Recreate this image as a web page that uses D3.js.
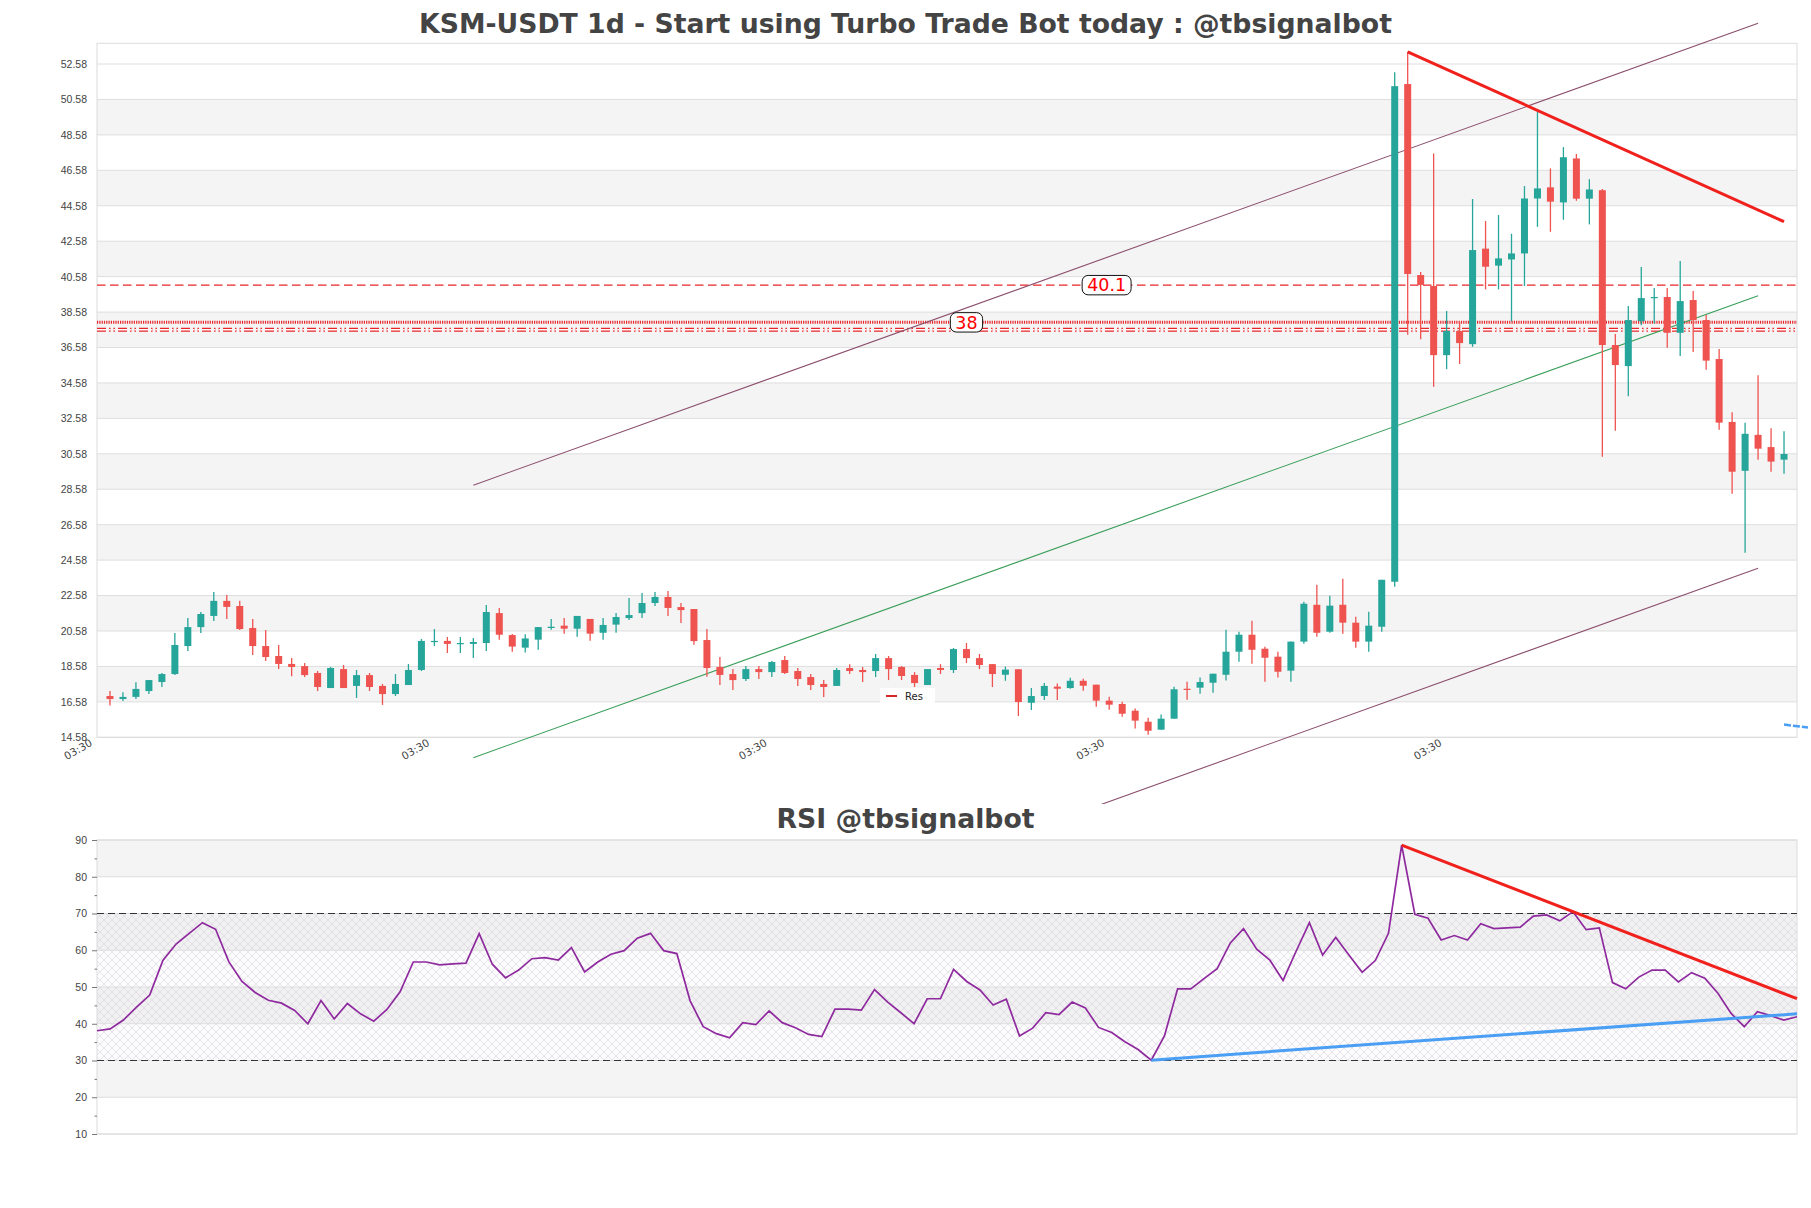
<!DOCTYPE html>
<html>
<head>
<meta charset="utf-8">
<title>KSM-USDT 1d</title>
<script src="https://d3js.org/d3.v7.min.js"></script>
<style>
  body { margin: 0; background: #fff; }
  svg { display: block; font-family: "DejaVu Sans", sans-serif; }
  .lbl { font-size: 10.5px; fill: #444; }
</style>
</head>
<body>
<svg id="chart" width="1811" height="1208"></svg>
<script>
// daily candles
const opens  = [16.91,16.74,16.86,17.19,17.70,18.15,19.73,20.80,21.43,22.28,21.99,20.75,19.73,19.17,18.72,18.60,18.21,17.36,18.43,17.48,
                18.09,17.48,17.02,17.53,18.38,19.96,20.02,19.85,19.85,19.90,21.59,20.35,19.64,20.09,20.75,20.88,20.71,21.26,20.48,20.94,
                21.31,21.59,22.16,22.50,21.93,21.82,20.07,18.55,18.15,17.87,18.43,18.26,18.94,18.32,17.98,17.59,17.48,18.49,18.38,18.32,
                19.05,18.55,18.10,17.53,18.49,18.38,19.56,19.05,18.71,18.11,18.42,16.53,16.91,17.44,17.36,17.77,17.55,16.65,16.46,16.08,
                15.46,15.01,15.63,17.32,17.38,17.66,18.11,19.41,20.37,19.58,19.13,18.34,19.98,22.06,20.54,22.06,21.05,19.98,20.82,23.36,
                51.45,40.67,40.05,36.15,37.51,36.77,42.16,41.20,41.55,41.89,44.99,45.62,44.77,47.25,44.98,45.46,36.72,35.53,38.07,39.37,
                39.43,37.41,39.26,38.13,35.93,32.38,29.62,31.65,30.96,30.25];
const highs  = [17.19,17.12,17.69,17.81,18.21,20.47,21.31,21.65,22.78,22.61,22.28,21.26,20.64,19.79,19.06,18.77,18.32,18.55,18.66,18.38,
                18.21,17.59,18.15,18.72,20.13,20.69,20.24,20.24,20.19,22.05,21.88,20.41,20.39,20.80,21.26,21.31,21.43,21.26,21.31,21.59,
                22.44,22.72,22.78,22.84,22.16,21.82,20.69,19.11,18.43,18.60,18.60,18.88,19.17,18.49,18.15,17.81,18.49,18.71,18.55,19.28,
                19.17,18.60,18.26,18.43,18.71,19.62,19.90,19.28,18.71,18.57,18.42,17.36,17.64,17.61,17.94,17.89,17.55,16.87,16.59,16.20,
                15.69,15.86,17.44,17.72,17.95,18.17,20.65,20.54,21.16,19.69,19.41,19.98,22.23,23.19,22.57,23.53,21.39,21.67,23.47,52.12,
                53.27,40.84,47.53,38.64,38.02,44.96,43.72,44.06,43.00,45.69,49.87,46.69,47.89,47.50,46.08,45.52,37.34,38.92,41.12,39.94,
                39.94,41.46,39.77,38.41,36.49,32.93,32.34,35.01,32.03,31.86];
const lows   = [16.37,16.63,16.74,17.02,17.42,18.09,19.45,20.47,21.15,21.26,20.64,19.22,18.88,18.43,18.03,17.98,17.19,17.36,17.36,16.80,
                17.19,16.41,16.91,17.53,18.32,19.73,19.34,19.34,19.06,19.45,20.09,19.41,19.36,19.52,20.65,20.43,20.26,20.03,20.09,20.48,
                21.20,21.31,21.99,21.43,21.03,19.81,18.00,17.53,17.25,17.76,17.87,17.98,18.15,17.48,17.25,16.85,17.48,18.15,17.70,17.98,
                17.81,17.81,17.42,17.53,18.15,18.21,18.77,18.43,17.42,17.77,15.78,16.12,16.68,16.68,17.32,17.21,16.31,16.14,15.74,15.07,
                14.73,15.01,15.63,16.70,17.04,17.10,17.78,18.85,18.73,17.72,17.95,17.72,19.86,20.26,20.48,20.43,19.64,19.41,20.54,23.08,
                37.30,37.05,34.36,35.36,35.65,36.62,39.86,39.86,38.06,40.05,43.39,43.11,43.79,44.86,43.53,30.41,31.88,33.83,37.84,37.94,
                36.57,36.10,36.32,35.33,31.94,28.32,24.99,30.25,29.57,29.46];
const closes = [16.74,16.86,17.31,17.81,18.15,19.79,20.80,21.54,22.28,21.94,20.69,19.73,19.11,18.72,18.55,18.09,17.42,18.49,17.36,18.09,
                17.42,17.02,17.59,18.38,20.02,20.02,19.85,19.90,19.96,21.65,20.37,19.70,20.16,20.80,20.82,20.71,21.43,20.43,20.92,21.37,
                21.48,22.16,22.50,21.88,21.76,20.01,18.49,18.10,17.81,18.43,18.26,18.83,18.21,17.87,17.53,17.42,18.38,18.32,18.26,19.05,
                18.43,18.04,17.64,18.43,18.38,19.56,19.05,18.66,18.15,18.40,16.57,16.91,17.48,17.32,17.77,17.49,16.65,16.42,15.91,15.52,
                14.95,15.63,17.29,17.27,17.70,18.17,19.41,20.37,19.52,19.07,18.28,19.98,22.12,20.48,22.01,21.05,19.98,20.88,23.47,51.33,
                40.73,40.11,36.15,37.51,36.83,42.08,41.14,41.61,41.89,44.99,45.56,44.81,47.32,44.98,45.50,36.72,35.59,38.13,39.37,39.43,
                37.41,39.20,38.13,35.84,32.34,29.57,31.71,30.87,30.14,30.57];
const rsi    = [38.1,38.6,41.0,44.5,47.8,57.2,61.7,64.6,67.5,65.7,56.9,51.5,48.5,46.4,45.6,43.6,40.0,46.3,41.3,45.5,
                42.7,40.7,43.9,48.7,56.8,56.8,56.0,56.3,56.5,64.5,56.2,52.5,54.6,57.7,58.0,57.3,60.7,54.1,56.8,58.9,
                59.9,63.3,64.6,59.9,59.1,46.3,39.2,37.3,36.2,40.3,39.8,43.5,40.3,38.9,37.1,36.5,44.0,44.0,43.7,49.3,
                45.9,43.0,40.0,46.8,46.8,54.8,51.5,49.2,45.1,46.7,36.7,38.8,43.0,42.5,45.9,44.3,39.0,37.6,35.1,33.0,
                30.1,36.7,49.5,49.5,52.3,55.0,62.0,65.9,60.3,57.3,51.8,59.8,67.5,58.7,63.5,58.7,54.0,57.2,64.6,88.6,
                69.8,68.7,62.8,64.0,62.8,67.2,65.9,66.1,66.3,69.3,69.6,68.0,70.5,65.6,66.1,51.2,49.5,52.7,54.6,54.6,
                51.4,53.9,52.4,48.3,42.8,39.2,43.3,42.2,41.0,41.9];

const priceTicks = [14.58,16.58,18.58,20.58,22.58,24.58,26.58,28.58,30.58,32.58,34.58,36.58,38.58,40.58,42.58,44.58,46.58,48.58,50.58,52.58];
const rsiTicks = [10,20,30,40,50,60,70,80,90];
const dateTickIdx = [-1, 25, 51, 77, 103];
const dateTickLabels = ["03:30","03:30","03:30","03:30","03:30"];

// drawn levels and lines
const levels = [40.1, 38, 37.58];
const levelLabels = ["40.1", "38", null];
const levelLabelIdx = [76.8, 66, null];
const resLine = [[100, 53.27], [129, 43.68]];
const supSeg = [[129, 15.3], [130.85, 15.13]];
const chanIdx = [28, 127];
const chanMid = [13.43, 39.5];
const chanHalf = 15.38;
const rsiResPts = [99, 112];
const rsiSupPts = [80, 127];

const up = "#26a69a", down = "#ef5350";
const svg = d3.select("#chart");
const M = {l: 97, r: 1797, t: 43.3, b: 737.3};
const R = {l: 97, r: 1797, t: 840, b: 1134};
const n = opens.length;

const x = d3.scaleLinear().domain([-1, n]).range([M.l, M.r]);
const y = d3.scaleLinear().domain([14.58, 53.75]).range([M.b, M.t]);
const xr = d3.scaleLinear().domain([0, n - 1]).range([R.l, R.r]);
const yr = d3.scaleLinear().domain([10, 90]).range([R.b, R.t]);

svg.append("rect").attr("width", 1811).attr("height", 1208).attr("fill", "#fff");

const defs = svg.append("defs");
const pat = defs.append("pattern").attr("id", "hatch").attr("patternUnits", "userSpaceOnUse")
  .attr("width", 8).attr("height", 8);
pat.append("path").attr("d", "M0,0L8,8M8,0L0,8").attr("stroke", "#d3cadb").attr("stroke-width", 0.5).attr("fill", "none");
defs.append("clipPath").attr("id", "mainArea").append("rect").attr("x", 0).attr("y", 0).attr("width", 1811).attr("height", 804);

// ---------- main panel ----------
const g = svg.append("g");
for (let k = 1; k < priceTicks.length - 1; k += 2) {
  g.append("rect").attr("x", M.l).attr("width", M.r - M.l)
    .attr("y", y(priceTicks[k + 1])).attr("height", y(priceTicks[k]) - y(priceTicks[k + 1]))
    .attr("fill", "#f4f4f4");
}
g.selectAll(".grid").data(priceTicks).join("line")
  .attr("x1", M.l).attr("x2", M.r).attr("y1", d => y(d)).attr("y2", d => y(d))
  .attr("stroke", "#dedede").attr("stroke-width", 1);
g.append("rect").attr("x", M.l).attr("y", M.t).attr("width", M.r - M.l).attr("height", M.b - M.t)
  .attr("fill", "none").attr("stroke", "#dcdcdc");

const yAxis = g.append("g").attr("transform", `translate(${M.l},0)`)
  .call(d3.axisLeft(y).tickValues(priceTicks).tickSize(0).tickPadding(10).tickFormat(d3.format(".2f")));
yAxis.select(".domain").remove();
yAxis.selectAll("text").attr("class", "lbl").attr("fill", null);

g.selectAll(".xl").data(dateTickIdx).join("text").attr("class", "lbl")
  .attr("text-anchor", "end")
  .attr("transform", d => `translate(${x(d) - 4},745) rotate(-30)`)
  .text((d, i) => dateTickLabels[i]);

// horizontal levels
g.append("line").attr("x1", M.l).attr("x2", M.r).attr("y1", y(levels[0])).attr("y2", y(levels[0]))
  .attr("stroke", "#e8262a").attr("stroke-width", 1.3).attr("stroke-dasharray", "8.5,4.5");
g.append("line").attr("x1", M.l).attr("x2", M.r).attr("y1", y(levels[1])).attr("y2", y(levels[1]))
  .attr("stroke", "#e8262a").attr("stroke-width", 3).attr("stroke-dasharray", "1.2,1.1");
g.append("line").attr("x1", M.l).attr("x2", M.r).attr("y1", y(levels[2])).attr("y2", y(levels[2]))
  .attr("stroke", "#e8262a").attr("stroke-width", 4).attr("stroke-dasharray", "9,3,1.5,3,1.5,3");
g.append("line").attr("x1", M.l).attr("x2", M.r).attr("y1", y(levels[2])).attr("y2", y(levels[2]))
  .attr("stroke", "#fff").attr("stroke-width", 1.4).attr("stroke-dasharray", "9,3,1.5,3,1.5,3");

// channel lines
const cg = g.append("g").attr("clip-path", "url(#mainArea)");
[chanHalf, 0, -chanHalf].forEach(off => {
  cg.append("line")
    .attr("x1", x(chanIdx[0])).attr("y1", y(chanMid[0] + off))
    .attr("x2", x(chanIdx[1])).attr("y2", y(chanMid[1] + off))
    .attr("stroke", off === 0 ? "#3a9e5a" : "#8c4f6e").attr("stroke-width", 1.1);
});

// candles
const cw = 7;
const cd = g.append("g");
for (let i = 0; i < n; i++) {
  const col = closes[i] >= opens[i] ? up : down;
  cd.append("line").attr("x1", x(i)).attr("x2", x(i)).attr("y1", y(highs[i])).attr("y2", y(lows[i]))
    .attr("stroke", col).attr("stroke-width", 1.3);
  const top = y(Math.max(opens[i], closes[i])), bot = y(Math.min(opens[i], closes[i]));
  cd.append("rect").attr("x", x(i) - cw / 2).attr("width", cw)
    .attr("y", top).attr("height", Math.max(1.2, bot - top)).attr("fill", col);
}

// resistance + support segments
g.append("line").attr("x1", x(resLine[0][0])).attr("y1", y(resLine[0][1]))
  .attr("x2", x(resLine[1][0])).attr("y2", y(resLine[1][1]))
  .attr("stroke", "#f0201c").attr("stroke-width", 3);
g.append("line").attr("x1", x(supSeg[0][0])).attr("y1", y(supSeg[0][1]))
  .attr("x2", x(supSeg[1][0])).attr("y2", y(supSeg[1][1]))
  .attr("stroke", "#4a9ff5").attr("stroke-width", 2.5).attr("stroke-dasharray", "7,2");

// level labels
levels.forEach((v, i) => {
  if (!levelLabels[i]) return;
  const cx = x(levelLabelIdx[i]), cy = y(v);
  const t = g.append("text").attr("x", cx).attr("y", cy + 6.2).attr("text-anchor", "middle")
    .attr("font-size", 17.5).attr("fill", "#f00").text(levelLabels[i]);
  const bb = t.node().getBBox();
  g.insert("rect", () => t.node())
    .attr("x", bb.x - 5).attr("y", cy - 9.7).attr("width", bb.width + 10).attr("height", 19.4)
    .attr("rx", 6).attr("fill", "#fff").attr("stroke", "#111").attr("stroke-width", 1);
});

// legend
const lg = g.append("g").attr("transform", "translate(880,688)");
lg.append("rect").attr("width", 55).attr("height", 15).attr("fill", "#fff").attr("opacity", 0.9);
lg.append("line").attr("x1", 6).attr("x2", 17).attr("y1", 8).attr("y2", 8).attr("stroke", "#d62728").attr("stroke-width", 2);
lg.append("text").attr("x", 25).attr("y", 11.5).attr("font-size", 10).attr("fill", "#222").text("Res");

svg.append("text").attr("x", 905.5).attr("y", 32.5).attr("text-anchor", "middle")
  .attr("font-size", 26.7).attr("font-weight", "bold").attr("fill", "#444")
  .text("KSM-USDT 1d - Start using Turbo Trade Bot today : @tbsignalbot");

// ---------- RSI panel ----------
const r = svg.append("g");
for (let k = 1; k < rsiTicks.length - 1; k += 2) {
  r.append("rect").attr("x", R.l).attr("width", R.r - R.l)
    .attr("y", yr(rsiTicks[k + 1])).attr("height", yr(rsiTicks[k]) - yr(rsiTicks[k + 1]))
    .attr("fill", "#f4f4f4");
}
r.append("rect").attr("x", R.l).attr("width", R.r - R.l).attr("y", yr(70)).attr("height", yr(30) - yr(70))
  .attr("fill", "#b79ccc").attr("opacity", 0.035);
r.append("rect").attr("x", R.l).attr("width", R.r - R.l).attr("y", yr(70)).attr("height", yr(30) - yr(70))
  .attr("fill", "url(#hatch)");
r.selectAll(".grid").data(rsiTicks).join("line")
  .attr("x1", R.l).attr("x2", R.r).attr("y1", d => yr(d)).attr("y2", d => yr(d))
  .attr("stroke", "#dedede");
r.append("rect").attr("x", R.l).attr("y", R.t).attr("width", R.r - R.l).attr("height", R.b - R.t)
  .attr("fill", "none").attr("stroke", "#dcdcdc");

const ra = r.append("g").attr("transform", `translate(${R.l},0)`)
  .call(d3.axisLeft(yr).tickValues(rsiTicks).tickSize(5).tickPadding(5));
ra.select(".domain").remove();
ra.selectAll("line").attr("stroke", "#777");
ra.selectAll("text").attr("class", "lbl").attr("fill", null);
const rm = r.append("g").attr("transform", `translate(${R.l},0)`)
  .call(d3.axisLeft(yr).tickValues(d3.range(15, 90, 10)).tickSize(2.5).tickFormat(""));
rm.select(".domain").remove();
rm.selectAll("line").attr("stroke", "#777");

[70, 30].forEach(v => {
  r.append("line").attr("x1", R.l).attr("x2", R.r).attr("y1", yr(v)).attr("y2", yr(v))
    .attr("stroke", "#333").attr("stroke-width", 1.1).attr("stroke-dasharray", "7,4");
});

r.append("path").datum(rsi)
  .attr("d", d3.line().x((d, i) => xr(i)).y(d => yr(d)))
  .attr("fill", "none").attr("stroke", "#8e2a9e").attr("stroke-width", 1.7);

function trend(pts, color) {
  const [a, b] = pts;
  const slope = (rsi[b] - rsi[a]) / (b - a);
  const endV = rsi[a] + slope * (n - 1 - a);
  r.append("line").attr("x1", xr(a)).attr("y1", yr(rsi[a])).attr("x2", xr(n - 1)).attr("y2", yr(endV))
    .attr("stroke", color).attr("stroke-width", 3);
}
trend(rsiResPts, "#f0201c");
trend(rsiSupPts, "#4a9ff5");

svg.append("text").attr("x", 905.5).attr("y", 828).attr("text-anchor", "middle")
  .attr("font-size", 26.7).attr("font-weight", "bold").attr("fill", "#444")
  .text("RSI @tbsignalbot");
</script>
</body>
</html>
